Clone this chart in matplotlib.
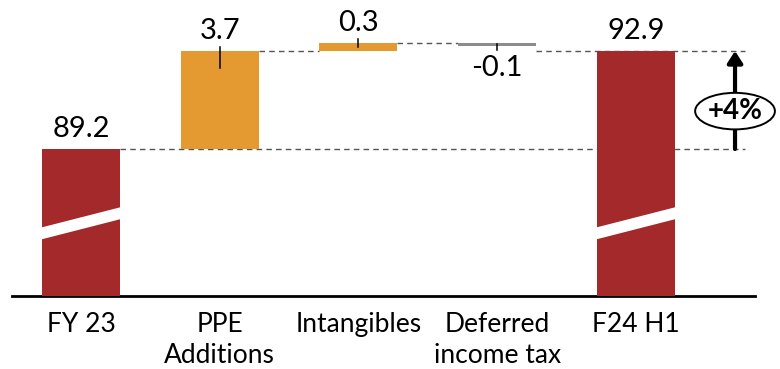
import matplotlib
matplotlib.use("Agg")
import matplotlib.pyplot as plt
from matplotlib.patches import Ellipse, Polygon

plt.rcParams["font.family"] = ["Lato", "DejaVu Sans"]

# ---- data -------------------------------------------------------------
categories = ["FY 23", "PPE\nAdditions", "Intangibles", "Deferred\nincome tax", "F24 H1"]
start_value = 89.2
deltas = [3.7, 0.3, -0.1]
end_value = 92.9
value_labels = ["89.2", "3.7", "0.3", "-0.1", "92.9"]

# ---- styling ----------------------------------------------------------
RED = "#A3292A"
ORANGE = "#E49A30"
GREY = "#8C8C8C"
DASH = "#555555"
BAR_W = 0.562
BASE = 83.65          # visual floor of the broken axis
FONT = 19
VFONT = 21
WEIGHT = "normal"

fig = plt.figure(figsize=(7.8, 3.69), dpi=100)
ax = fig.add_axes([12 / 780, 73 / 369, 743 / 780, 296 / 369])
ax.set_xlim(-0.4975, 4.859)
ax.set_ylim(BASE, 94.825)

x = list(range(len(categories)))

# totals
for xi, val in [(x[0], start_value), (x[-1], end_value)]:
    ax.bar(xi, val - BASE, bottom=BASE, width=BAR_W, color=RED, zorder=3)
    # white slanted break across the tall bars
    l, r = xi - BAR_W / 2 - 0.01, xi + BAR_W / 2 + 0.01
    ax.add_patch(Polygon([(l, 85.78), (r, 86.56), (r, 87.01), (l, 86.23)],
                         closed=True, facecolor="white", edgecolor="none", zorder=4))

# floating deltas
tops = [end_value, end_value + deltas[1], end_value + deltas[1] + deltas[2]]
bottoms = [start_value, end_value, end_value + deltas[1]]
for i, d in enumerate(deltas):
    xi = x[i + 1]
    lo, hi = (bottoms[i], tops[i]) if d >= 0 else (tops[i], bottoms[i])
    color = ORANGE if d >= 0 else GREY
    ax.bar(xi, hi - lo, bottom=lo, width=BAR_W, color=color, zorder=3)

# dashed connectors
dash_kw = dict(color=DASH, lw=1.0, ls=(0, (4, 3)), zorder=2)
ax.plot([x[0] + BAR_W / 2, 4.787], [start_value] * 2, **dash_kw)
ax.plot([x[1] + BAR_W / 2, x[2] - BAR_W / 2], [tops[0]] * 2, **dash_kw)
ax.plot([x[2] + BAR_W / 2, x[3] - BAR_W / 2], [tops[1]] * 2, **dash_kw)
ax.plot([x[3] + BAR_W / 2, 4.787], [end_value] * 2, **dash_kw)

# value labels
px = 1 / 26.49  # one pixel in data units
ax.annotate(value_labels[0], (x[0], start_value), xytext=(0, 7), textcoords="offset pixels",
            ha="center", va="bottom", fontsize=VFONT, fontweight=WEIGHT)
ax.annotate(value_labels[-1], (x[-1], end_value), xytext=(0, 7), textcoords="offset pixels",
            ha="center", va="bottom", fontsize=VFONT, fontweight=WEIGHT)

for i, d in enumerate(deltas):
    xi = x[i + 1]
    h_px = abs(d) / px
    inner = min(17, h_px / 2) * px
    if d >= 0:
        edge = tops[i]
        y0, y1 = edge + 4 * px, edge - inner
        ax.plot([xi, xi], [y0, y1], color="black", lw=1.1, zorder=5)
        ax.annotate(value_labels[i + 1], (xi, y0), xytext=(0, 3), textcoords="offset pixels",
                    ha="center", va="bottom", fontsize=VFONT, fontweight=WEIGHT)
    else:
        edge = tops[i]
        y0 = edge - 4 * px
        ax.plot([xi, xi], [y0, edge + 1.5 * px], color="black", lw=1.1, zorder=5)
        ax.annotate(value_labels[i + 1], (xi, y0), xytext=(0, -5), textcoords="offset pixels",
                    ha="center", va="top", fontsize=VFONT, fontweight=WEIGHT)

# growth marker
ax_x = 4.715
ax.annotate("", xy=(ax_x, end_value), xytext=(ax_x, start_value),
            arrowprops=dict(arrowstyle="-|>,head_length=0.7,head_width=0.45",
                            lw=3, color="black", shrinkA=0, shrinkB=0),
            annotation_clip=False, zorder=5)
ax.add_patch(Ellipse((ax_x, 90.63), 0.575, 1.38, facecolor="white", edgecolor="black",
                     lw=1.4, zorder=6, clip_on=False))
growth = (end_value - start_value) / start_value * 100
ax.text(ax_x, 90.63, f"+{growth:.0f}%", ha="center", va="center", fontsize=20,
        fontweight="bold", zorder=7)

# axes styling
ax.set_xticks(x)
ax.set_xticklabels(categories, fontsize=FONT, linespacing=1.3, fontweight=WEIGHT)
ax.tick_params(axis="x", length=0, pad=11.5)
ax.set_yticks([])
for s in ["top", "right", "left"]:
    ax.spines[s].set_visible(False)
ax.spines["bottom"].set_linewidth(2)
ax.spines["bottom"].set_color("black")

fig.savefig("out.png", dpi=100)
